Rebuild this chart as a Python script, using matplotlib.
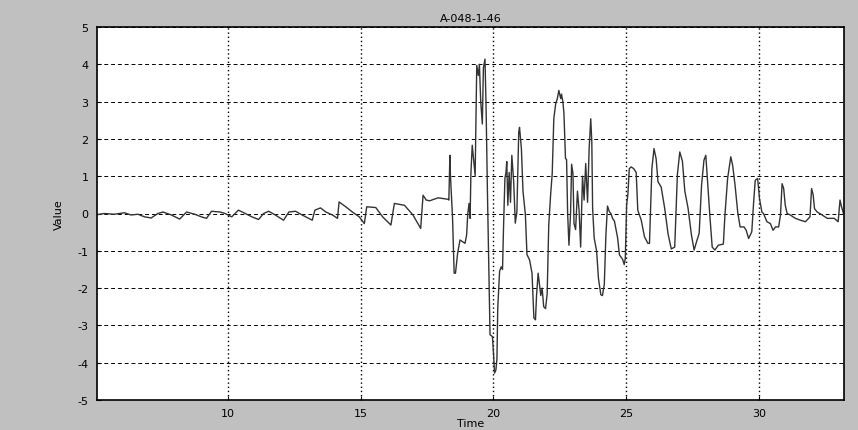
import matplotlib
matplotlib.use("Agg")
import matplotlib.pyplot as plt

plt.rcParams["axes.unicode_minus"] = False

# values
time = [
    5.0, 5.35, 5.73, 6.11, 6.36, 6.62, 6.87, 7.12, 7.37, 7.56, 7.88, 8.19,
    8.45, 8.76, 9.01, 9.2, 9.39, 9.71, 9.9, 10.15, 10.4, 10.66, 10.91, 11.16,
    11.35, 11.54, 11.79, 12.1, 12.3, 12.55, 12.8, 13.18, 13.28, 13.49, 13.69,
    13.94, 14.13, 14.19, 14.44, 14.69, 14.95, 15.14, 15.23, 15.57, 15.83,
    16.08, 16.14, 16.27, 16.65, 16.97, 17.26, 17.35, 17.47, 17.6, 17.75,
    17.92, 18.1, 18.3, 18.32, 18.36, 18.38, 18.46, 18.52, 18.57, 18.65,
    18.74, 18.93, 18.99, 19.03, 19.08, 19.12, 19.15, 19.2, 19.31, 19.37,
    19.43, 19.47, 19.52, 19.58, 19.62, 19.68, 19.72, 19.77, 19.82, 19.87,
    19.96, 20.0, 20.04, 20.09, 20.13, 20.16, 20.23, 20.29, 20.34, 20.38,
    20.43, 20.47, 20.5, 20.54, 20.59, 20.64, 20.69, 20.76, 20.82, 20.88,
    20.95, 20.98, 21.05, 21.11, 21.2, 21.26, 21.36, 21.45, 21.52, 21.58,
    21.62, 21.68, 21.73, 21.78, 21.83, 21.89, 21.96, 22.02, 22.08, 22.15,
    22.21, 22.27, 22.34, 22.4, 22.46, 22.53, 22.56, 22.61, 22.65, 22.71,
    22.75, 22.79, 22.84, 22.9, 22.94, 22.99, 23.03, 23.09, 23.16, 23.22,
    23.28, 23.35, 23.41, 23.47, 23.54, 23.6, 23.66, 23.7, 23.73, 23.79,
    23.88, 23.95, 24.04, 24.1, 24.17, 24.23, 24.29, 24.36, 24.42, 24.48,
    24.55, 24.67, 24.74, 24.86, 24.92, 24.96, 25.01, 25.06, 25.11, 25.18,
    25.28, 25.37, 25.43, 25.56, 25.68, 25.81, 25.87, 25.96, 26.04, 26.12,
    26.19, 26.31, 26.44, 26.57, 26.69, 26.82, 26.92, 27.01, 27.11, 27.2,
    27.32, 27.45, 27.55, 27.64, 27.74, 27.83, 27.92, 27.99, 28.04, 28.14,
    28.23, 28.33, 28.46, 28.65, 28.71, 28.81, 28.93, 29.0, 29.09, 29.19,
    29.28, 29.43, 29.51, 29.6, 29.72, 29.79, 29.85, 29.94, 30.01, 30.1,
    30.16, 30.29, 30.42, 30.52, 30.61, 30.73, 30.8, 30.86, 30.92, 30.98,
    31.05, 31.17, 31.36, 31.55, 31.74, 31.91, 31.97, 32.03, 32.08, 32.18,
    32.37, 32.56, 32.82, 32.97, 33.04, 33.09, 33.17, 33.23,
]
value = [
    -0.04, 0.0, -0.02, 0.02, -0.04, -0.02, -0.09, -0.12, 0.0, 0.04, -0.04,
    -0.15, 0.04, -0.02, -0.09, -0.13, 0.06, 0.04, 0.0, -0.09, 0.09, 0.0,
    -0.09, -0.16, 0.0, 0.06, -0.04, -0.18, 0.04, 0.06, -0.04, -0.18, 0.09,
    0.15, 0.04, -0.04, -0.13, 0.31, 0.18, 0.04, -0.09, -0.27, 0.18, 0.16,
    -0.09, -0.27, -0.31, 0.27, 0.22, -0.04, -0.40, 0.49, 0.36, 0.34, 0.38,
    0.42, 0.40, 0.38, 0.36, 1.56, 1.02, -0.13, -1.6, -1.6, -1.07, -0.71,
    -0.8, -0.57, -0.03, 0.27, -0.13, 1.07, 1.83, 1.02, 3.97, 3.7, 4.0, 3.0,
    2.4, 3.9, 4.14, 2.9, 0.67, -1.29, -3.25, -3.3, -3.74, -4.28, -4.2,
    -3.9, -2.54, -1.55, -1.43, -1.5, -0.31, 0.94, 1.1, 1.39, 0.22, 1.1, 0.3,
    1.56, 0.85, -0.26, 0.04, 2.18, 2.31, 1.74, 0.6, -0.03, -1.1, -1.25,
    -1.6, -2.8, -2.85, -2.2, -1.6, -1.9, -2.2, -2.0, -2.5, -2.55, -2.15,
    -0.3, 0.5, 1.07, 2.54, 2.94, 3.07, 3.3, 3.08, 3.2, 3.0, 2.7, 1.47,
    1.45, 0.0, -0.85, 0.0, 1.32, 1.07, -0.27, -0.43, 0.6, 0.09, -0.9, 1.0,
    0.36, 1.34, 0.3, 1.74, 2.54, 1.92, 0.15, -0.66, -1.0, -1.74, -2.18,
    -2.2, -1.9, -0.58, 0.2, 0.05, 0.0, -0.13, -0.2, -0.65, -1.11, -1.23,
    -1.37, -1.2, 0.22, 0.53, 1.2, 1.25, 1.2, 1.1, 0.09, -0.18, -0.62, -0.8,
    -0.8, 1.2, 1.74, 1.47, 0.85, 0.71, 0.15, -0.55, -0.95, -0.9, 1.04, 1.65,
    1.4, 0.6, 0.15, -0.58, -0.98, -0.76, -0.53, 0.76, 1.43, 1.56, 1.02,
    -0.04, -0.9, -0.98, -0.85, -0.82, -0.04, 0.94, 1.52, 1.29, 0.76, 0.04,
    -0.36, -0.36, -0.45, -0.67, -0.49, 0.31, 0.89, 0.94, 0.4, 0.04, 0.0,
    -0.22, -0.27, -0.45, -0.36, -0.36, -0.04, 0.8, 0.67, 0.22, 0.0, -0.04,
    -0.13, -0.18, -0.22, -0.09, 0.67, 0.5, 0.13, 0.04, -0.04, -0.13, -0.13,
    -0.22, 0.36, 0.2, 0.0, -0.02,
]
xticks = [10, 15, 20, 25, 30]
yticks = [-5, -4, -3, -2, -1, 0, 1, 2, 3, 4, 5]

fig = plt.figure(figsize=(8.58, 4.31), dpi=100, facecolor="#c0c0c0")
ax = fig.add_axes([97 / 858, 1 - 401 / 431, (844 - 97) / 858, (401 - 28) / 431])
ax.set_facecolor("white")

ax.plot(time, value, color="#333333", lw=1.0)

ax.set_xlim(5.08, 33.19)
ax.set_ylim(-5, 5)
ax.set_xticks(xticks)
ax.set_yticks(yticks)
ax.tick_params(direction="in", length=3, labelsize=8, pad=6, colors="black")

ax.yaxis.grid(True, color="black", linestyle=(0, (4, 3)), lw=0.7)
ax.xaxis.grid(True, color="black", linestyle=(0, (1, 2)), lw=1.0)

for s in ax.spines.values():
    s.set_linewidth(1.2)
    s.set_color("black")

ax.set_title("A-048-1-46", fontsize=8, pad=4)
ax.set_xlabel("Time", fontsize=8, labelpad=0)
ax.set_ylabel("Value", fontsize=8, labelpad=10)

fig.savefig("out.png", dpi=100, facecolor=fig.get_facecolor())
